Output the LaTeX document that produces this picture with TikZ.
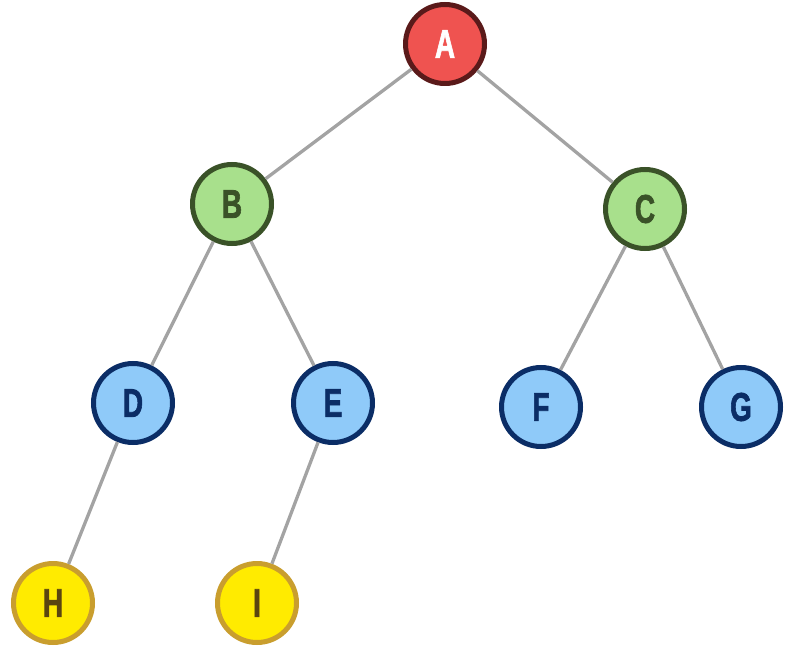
\documentclass[tikz,border=0pt]{standalone}
\usepackage{fontspec}
\setmainfont{Liberation Sans}
\newfontfamily\lblfont[FakeBold=2]{Liberation Sans}
\definecolor{redfill}{HTML}{EF5350}
\definecolor{redline}{HTML}{5A1A1A}
\definecolor{greenfill}{HTML}{A8E08C}
\definecolor{greenline}{HTML}{3A5228}
\definecolor{bluefill}{HTML}{8FCAF9}
\definecolor{blueline}{HTML}{0B2D66}
\definecolor{yellowfill}{HTML}{FFEB00}
\definecolor{yellowline}{HTML}{C99E2E}
\definecolor{yellowtext}{HTML}{5A4510}
\definecolor{edgegray}{HTML}{A3A3A3}
\begin{document}
\begin{tikzpicture}[x=1pt,y=1pt,
  treenode/.style={circle, line width=5pt, minimum size=79pt, inner sep=0pt},
  rednode/.style={treenode, fill=redfill, draw=redline, text=white},
  greennode/.style={treenode, fill=greenfill, draw=greenline, text=greenline},
  bluenode/.style={treenode, fill=bluefill, draw=blueline, text=blueline},
  yellownode/.style={treenode, fill=yellowfill, draw=yellowline, text=yellowtext},
  edge/.style={draw=edgegray, line width=3.3pt}]
\useasboundingbox (0,0) rectangle (794,646);
\newcommand{\lbl}[1]{\scalebox{0.7}[1]{\lblfont\bfseries\fontsize{40pt}{40pt}\selectfont #1}}
\node[rednode] (A) at (445,602) {\lbl{A}};
\node[greennode] (B) at (232,442) {\lbl{B}};
\node[greennode] (C) at (645,437) {\lbl{C}};
\node[bluenode] (D) at (133,243) {\lbl{D}};
\node[bluenode] (E) at (333,243) {\lbl{E}};
\node[bluenode] (F) at (541,239) {\lbl{F}};
\node[bluenode] (G) at (741,239) {\lbl{G}};
\node[yellownode] (H) at (53,43) {\lbl{H}};
\node[yellownode] (I) at (257,43) {\lbl{I}};
\path[edge] (A) -- (B);
\path[edge] (A) -- (C);
\path[edge] (B) -- (D);
\path[edge] (B) -- (E);
\path[edge] (C) -- (F);
\path[edge] (C) -- (G);
\path[edge] (D) -- (H);
\path[edge] (E) -- (I);
\end{tikzpicture}
\end{document}
